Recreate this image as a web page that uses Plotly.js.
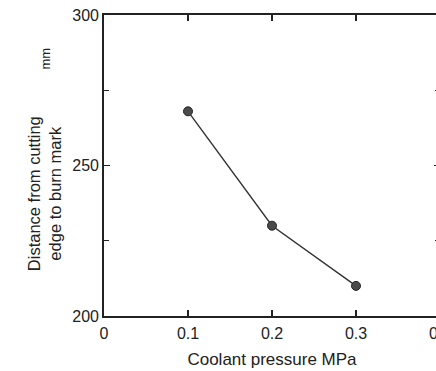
<!DOCTYPE html>
<html>
<head>
<meta charset="utf-8">
<script src="https://cdn.plot.ly/plotly-3.0.1.min.js"></script>
<style>
html, body { margin: 0; padding: 0; overflow: hidden; background: #fff; }
#chart { width: 470px; height: 371px; }
</style>
</head>
<body>
<div id="chart"></div>
<script>
const pressure = [0.1, 0.2, 0.3];
const distance = [268, 230, 210];
const xTicks = [0, 0.1, 0.2, 0.3, 0.4];
const xTickLabels = ['0', '0.1', '0.2', '0.3', '0.4'];
const yTicks = [200, 250, 300];
const yTickLabels = ['200', '250', '300'];

const fontFam = '"Liberation Sans", Arial, Helvetica, sans-serif';
const ink = '#222';

const trace = {
  x: pressure, y: distance, type: 'scatter', mode: 'lines+markers',
  line: { color: '#333', width: 1.4 },
  marker: { size: 9, color: '#4a4a4a', line: { color: '#222', width: 1 } },
  hoverinfo: 'skip', showlegend: false, cliponaxis: false
};

const axisCommon = {
  showline: true, linecolor: ink, linewidth: 1.8, mirror: 'ticks',
  ticks: 'inside', ticklen: 6, tickwidth: 1.2, tickcolor: ink,
  showgrid: false, zeroline: false, fixedrange: true,
  ticklabeloverflow: 'allow',
  tickfont: { family: fontFam, size: 16, color: ink }
};

const layout = {
  width: 470, height: 371,
  margin: { l: 104, r: 30, t: 15, b: 55 },
  paper_bgcolor: '#fff', plot_bgcolor: '#fff',
  font: { family: fontFam, color: ink },
  xaxis: Object.assign({}, axisCommon, {
    range: [0, 0.4], tickmode: 'array', tickvals: xTicks, ticktext: xTickLabels,
    ticklabelstandoff: 2,
    title: { text: 'Coolant pressure MPa', font: { family: fontFam, size: 17, color: ink }, standoff: 12 }
  }),
  yaxis: Object.assign({}, axisCommon, {
    range: [200, 300], tickmode: 'array', tickvals: yTicks, ticktext: yTickLabels,
    minor: { tickvals: [225, 275], ticks: 'inside', ticklen: 5, tickcolor: ink, tickwidth: 1.2 }
  }),
  annotations: [
    { xref: 'paper', yref: 'paper', x: -0.1786, y: 0.408, xanchor: 'center', yanchor: 'middle',
      text: 'Distance from cutting<br>edge to burn mark', textangle: -90, showarrow: false,
      font: { family: fontFam, size: 16.5, color: ink } },
    { xref: 'paper', yref: 'paper', x: -0.173, y: 0.855, xanchor: 'center', yanchor: 'middle',
      text: 'mm', textangle: -90, showarrow: false,
      font: { family: fontFam, size: 13, color: ink } }
  ]
};

Plotly.newPlot('chart', [trace], layout, { staticPlot: true, displayModeBar: false });
</script>
</body>
</html>
